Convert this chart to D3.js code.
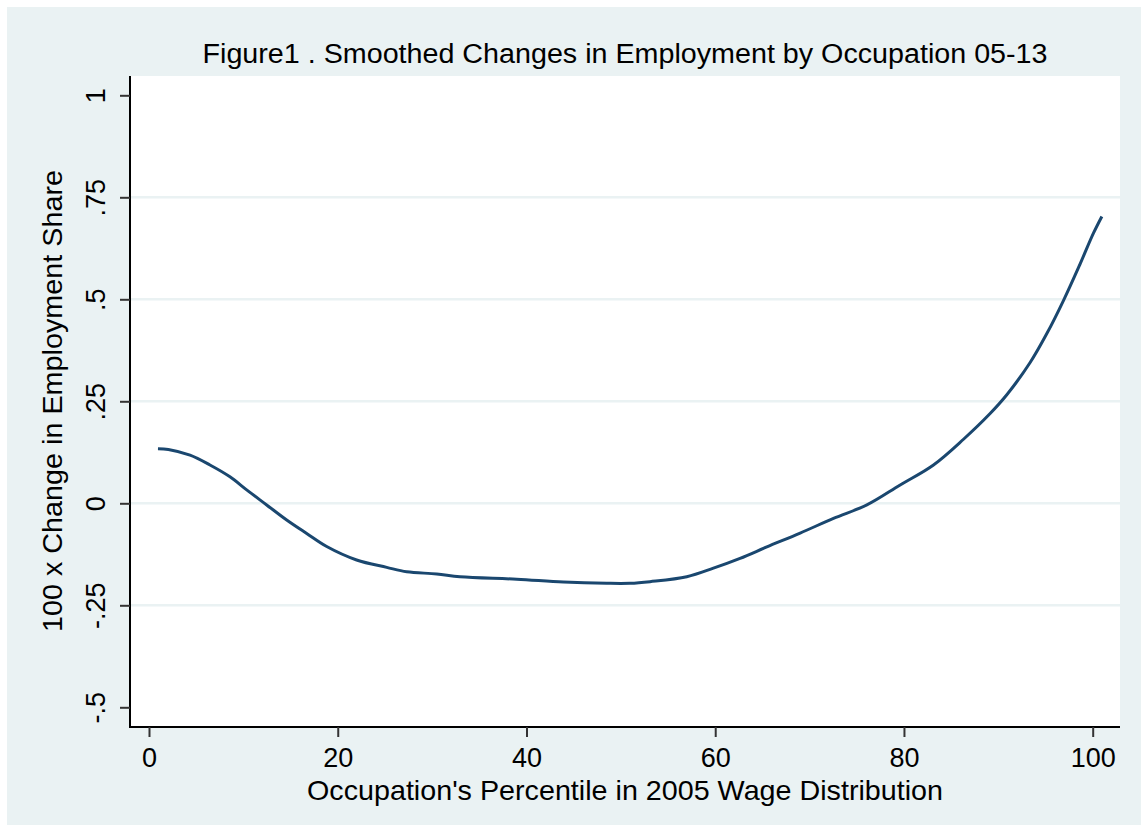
<!DOCTYPE html>
<html>
<head>
<meta charset="utf-8">
<script src="https://cdn.jsdelivr.net/npm/d3@7"></script>
<style>
  html, body { margin: 0; padding: 0; background: #ffffff; }
  svg { display: block; }
  text { font-family: "Liberation Sans", Arial, sans-serif; fill: #000; }
</style>
</head>
<body>
<svg id="chart" width="1141" height="832"></svg>
<script>
// Smoothed change in employment share by occupation wage percentile
const percentile = [0.95, 2.05, 4.35, 6.46, 8.58, 10.35, 12.47, 14.59, 16.71, 18.83,
  22.0, 25.19, 27.31, 30.49, 32.96, 38.97, 43.91, 48.5, 50.97, 53.09,
  56.99, 59.81, 62.63, 65.47, 69.0, 72.53, 76.07, 79.6, 83.13, 86.31,
  89.13, 90.9, 93.37, 95.14, 96.9, 98.67, 100.08, 100.97];
const shareChange = [0.134, 0.132, 0.118, 0.094, 0.065, 0.033, -0.004, -0.041, -0.074, -0.106,
  -0.139, -0.157, -0.168, -0.173, -0.180, -0.186, -0.193, -0.196, -0.196, -0.192,
  -0.180, -0.159, -0.135, -0.107, -0.073, -0.037, -0.004, 0.045, 0.094, 0.157,
  0.220, 0.266, 0.345, 0.416, 0.497, 0.587, 0.662, 0.703];
const xTicks = [0, 20, 40, 60, 80, 100];
const yTicks = [-0.5, -0.25, 0, 0.25, 0.5, 0.75, 1];
const yTickLabels = ["-.5", "-.25", "0", ".25", ".5", ".75", "1"];
const gridValues = [-0.25, 0, 0.25, 0.5, 0.75];

const titleText = "Figure1 . Smoothed Changes in Employment by Occupation 05-13";
const xTitle = "Occupation's Percentile in 2005 Wage Distribution";
const yTitle = "100 x Change in Employment Share";

const svg = d3.select("#chart");
const W = 1141, H = 832;
const plot = { left: 130, right: 1120, top: 76, bottom: 727 };

const x = d3.scaleLinear().domain([0, 100]).range([149, 1092.7]);
const y = d3.scaleLinear().domain([0, 0.5]).range([503.3, 299.3]);

// graph region background
svg.append("rect").attr("x", 7).attr("y", 7).attr("width", W - 7).attr("height", 818)
  .attr("fill", "#eaf2f3");
// plot region
svg.append("rect").attr("x", plot.left).attr("y", plot.top)
  .attr("width", plot.right - plot.left).attr("height", plot.bottom - plot.top)
  .attr("fill", "#ffffff");

// horizontal gridlines
svg.append("g").selectAll("line").data(gridValues).join("line")
  .attr("x1", plot.left).attr("x2", plot.right)
  .attr("y1", d => y(d)).attr("y2", d => y(d))
  .attr("stroke", "#eaf2f3").attr("stroke-width", 2.5);

// y axis
const yAxis = d3.axisLeft(y).tickValues(yTicks)
  .tickFormat((d, i) => yTickLabels[i]).tickSize(10).tickPadding(0);
const gy = svg.append("g").attr("transform", `translate(${plot.left},0)`).call(yAxis);
gy.select(".domain").attr("d", `M0,${plot.top}V${plot.bottom + 1}`)
  .attr("stroke", "#000").attr("stroke-width", 2);
gy.selectAll(".tick line").attr("stroke", "#333").attr("stroke-width", 2);
gy.selectAll(".tick text")
  .attr("x", 0).attr("dy", null).attr("y", 0)
  .attr("text-anchor", "middle")
  .attr("transform", "translate(-25,0) rotate(-90)")
  .style("font-size", "27px");

// x axis
const xAxis = d3.axisBottom(x).tickValues(xTicks).tickSize(10).tickPadding(0);
const gx = svg.append("g").attr("transform", `translate(0,${plot.bottom})`).call(xAxis);
gx.select(".domain").attr("d", `M${plot.left - 1},0H${plot.right}`)
  .attr("stroke", "#000").attr("stroke-width", 2);
gx.selectAll(".tick line").attr("stroke", "#333").attr("stroke-width", 2);
gx.selectAll(".tick text").attr("dy", null).attr("y", 40)
  .style("font-size", "27px");

// smoothed curve
const line = d3.line().x(d => x(d[0])).y(d => y(d[1])).curve(d3.curveCatmullRom.alpha(0.5));
svg.append("path")
  .datum(percentile.map((p, i) => [p, shareChange[i]]))
  .attr("d", line).attr("fill", "none")
  .attr("stroke", "#1a476f").attr("stroke-width", 3);

// titles
svg.append("text").attr("x", (plot.left + plot.right) / 2).attr("y", 63)
  .attr("text-anchor", "middle").style("font-size", "27px")
  .attr("textLength", 845).attr("lengthAdjust", "spacingAndGlyphs")
  .text(titleText);
svg.append("text").attr("x", (plot.left + plot.right) / 2).attr("y", 800)
  .attr("text-anchor", "middle").style("font-size", "28px")
  .attr("textLength", 636).attr("lengthAdjust", "spacingAndGlyphs")
  .text(xTitle);
svg.append("text").attr("transform", "translate(62,401) rotate(-90)")
  .attr("text-anchor", "middle").style("font-size", "28.5px")
  .attr("textLength", 462).attr("lengthAdjust", "spacingAndGlyphs")
  .text(yTitle);
</script>
</body>
</html>
